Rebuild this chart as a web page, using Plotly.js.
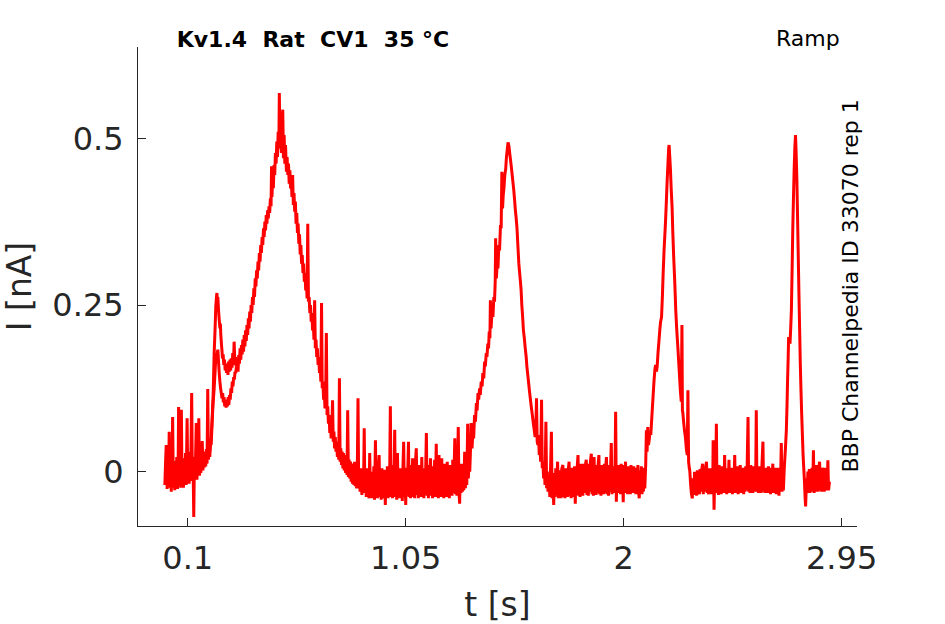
<!DOCTYPE html>
<html><head><meta charset="utf-8">
<script src="https://cdn.plot.ly/plotly-3.0.1.min.js"></script>
<style>html,body{margin:0;padding:0;background:#fff}#chart{width:945px;height:624px}</style>
</head><body><div id="chart"></div>
<script>
// Tick labels
const xTickVals = [0.1, 1.05, 2, 2.95];
const xTickText = ['0.1', '1.05', '2', '2.95'];
const yTickVals = [0, 0.25, 0.5];
const yTickText = ['0', '0.25', '0.5'];

const baseline0 = [[0.000,-0.020],[0.003,0.012],[0.006,0.040],[0.008,0.022],[0.010,-0.026],[0.013,0.010],[0.016,-0.022],[0.019,0.060],[0.022,-0.024],[0.025,0.018],[0.028,-0.030],[0.031,0.012],[0.034,0.082],[0.037,-0.024],[0.040,0.016],[0.043,-0.028],[0.046,0.014],[0.049,-0.012],[0.052,0.022],[0.055,-0.026],[0.058,0.010],[0.060,0.097],[0.063,-0.020],[0.066,0.018],[0.069,-0.024],[0.072,0.093],[0.075,-0.018],[0.078,0.020],[0.081,-0.024],[0.084,0.014],[0.087,-0.014],[0.090,0.028],[0.093,-0.020],[0.097,0.080],[0.100,-0.012],[0.103,0.024],[0.106,-0.018],[0.109,0.030],[0.112,-0.014],[0.117,0.118],[0.120,-0.012],[0.123,0.018],[0.126,-0.068],[0.129,0.022],[0.132,-0.010],[0.137,0.073],[0.140,-0.012],[0.143,0.028],[0.146,-0.006],[0.148,0.080],[0.151,-0.006],[0.154,0.028],[0.157,-0.002],[0.160,0.026],[0.163,0.046],[0.166,0.002],[0.169,0.028],[0.172,0.006],[0.175,0.030],[0.178,0.008],[0.181,0.034],[0.184,0.012],[0.187,0.124],[0.190,0.018],[0.193,0.038],[0.196,0.022],[0.199,0.050]];
const bump1 = [[0.202,0.040],[0.205,0.065],[0.208,0.095],[0.211,0.120],[0.213,0.150],[0.215,0.178],[0.218,0.205],[0.220,0.225],[0.222,0.247],[0.225,0.262],[0.227,0.268],[0.229,0.255],[0.231,0.262],[0.234,0.242],[0.237,0.228],[0.240,0.215],[0.242,0.222],[0.244,0.205],[0.247,0.190],[0.249,0.182],[0.251,0.170],[0.254,0.176],[0.257,0.160],[0.260,0.168],[0.263,0.152],[0.266,0.162],[0.269,0.148],[0.272,0.160],[0.275,0.145],[0.278,0.165],[0.281,0.150],[0.284,0.168],[0.287,0.152],[0.290,0.170],[0.293,0.156],[0.296,0.178],[0.299,0.160],[0.302,0.195],[0.305,0.165],[0.308,0.172],[0.311,0.158]];
const rise1 = [[0.316,0.165],[0.319,0.150],[0.322,0.175],[0.325,0.162],[0.328,0.185],[0.331,0.168],[0.334,0.190],[0.337,0.176],[0.340,0.198],[0.343,0.180],[0.346,0.205],[0.349,0.188],[0.352,0.212],[0.355,0.196],[0.358,0.220],[0.361,0.205],[0.364,0.230],[0.367,0.215],[0.370,0.240],[0.373,0.225],[0.376,0.250],[0.379,0.238],[0.382,0.262],[0.385,0.250],[0.388,0.275],[0.391,0.262],[0.394,0.290],[0.397,0.278],[0.400,0.302],[0.403,0.290],[0.406,0.315],[0.409,0.302],[0.412,0.328],[0.415,0.315],[0.418,0.340],[0.421,0.328],[0.424,0.352],[0.427,0.340],[0.430,0.365],[0.433,0.352],[0.436,0.375],[0.439,0.362],[0.442,0.385],[0.445,0.372],[0.448,0.392],[0.451,0.380],[0.454,0.398],[0.457,0.388],[0.460,0.410],[0.463,0.398],[0.465,0.458],[0.467,0.412],[0.470,0.440],[0.473,0.425],[0.476,0.460],[0.479,0.445],[0.482,0.478],[0.485,0.462],[0.488,0.495],[0.491,0.472],[0.494,0.510],[0.497,0.485],[0.499,0.568],[0.502,0.490],[0.505,0.515],[0.508,0.478],[0.511,0.520],[0.514,0.543],[0.517,0.470],[0.520,0.505],[0.523,0.462],[0.526,0.490]];
const decay1 = [[0.530,0.450],[0.533,0.472],[0.536,0.445],[0.539,0.462],[0.542,0.432],[0.545,0.452],[0.548,0.425],[0.551,0.440],[0.554,0.412],[0.557,0.445],[0.560,0.400],[0.563,0.418],[0.566,0.390],[0.569,0.405],[0.572,0.372],[0.575,0.388],[0.578,0.358],[0.581,0.372],[0.584,0.342],[0.587,0.356],[0.590,0.326],[0.593,0.340],[0.596,0.312],[0.599,0.325],[0.602,0.298],[0.605,0.312],[0.608,0.285],[0.611,0.298],[0.614,0.272],[0.617,0.285],[0.620,0.260],[0.623,0.372],[0.626,0.255],[0.629,0.262],[0.632,0.238],[0.635,0.250],[0.638,0.225],[0.641,0.238],[0.644,0.212],[0.647,0.225],[0.650,0.198],[0.653,0.257],[0.656,0.185],[0.659,0.198],[0.662,0.172],[0.665,0.185],[0.668,0.160],[0.671,0.172],[0.674,0.148],[0.677,0.160],[0.680,0.135],[0.683,0.253],[0.686,0.125],[0.689,0.135],[0.692,0.108],[0.695,0.122],[0.698,0.095],[0.701,0.110],[0.704,0.208],[0.707,0.085],[0.710,0.098],[0.713,0.072],[0.716,0.085],[0.719,0.058],[0.722,0.072],[0.725,0.050],[0.728,0.062],[0.731,0.107],[0.734,0.045],[0.737,0.060],[0.740,0.035],[0.743,0.052],[0.746,0.030],[0.749,0.045],[0.752,0.022],[0.755,0.040],[0.758,0.018],[0.761,0.140],[0.764,0.015],[0.767,0.035],[0.770,0.010],[0.773,0.030],[0.776,0.005],[0.779,0.028],[0.782,0.002],[0.785,0.025],[0.788,-0.002],[0.791,0.020],[0.794,-0.005],[0.797,0.092],[0.800,-0.008],[0.803,0.018],[0.806,-0.010],[0.809,0.015],[0.812,-0.015],[0.815,0.012],[0.818,-0.018],[0.821,0.010],[0.824,-0.020],[0.827,0.015],[0.830,-0.022],[0.833,0.008],[0.836,-0.025],[0.839,0.005],[0.842,0.110],[0.845,-0.025],[0.848,0.002],[0.851,-0.030],[0.854,0.005]];
const baseline1 = [[0.859,-0.035],[0.863,0.000],[0.866,-0.030],[0.869,0.065],[0.872,-0.032],[0.875,-0.005],[0.878,-0.038],[0.881,0.005],[0.884,-0.030],[0.887,-0.008],[0.890,-0.040],[0.893,0.028],[0.896,-0.035],[0.899,0.000],[0.902,-0.040],[0.905,-0.005],[0.908,-0.036],[0.911,0.008],[0.914,-0.042],[0.918,0.047],[0.921,-0.035],[0.924,-0.005],[0.927,-0.040],[0.930,0.002],[0.934,0.025],[0.937,-0.038],[0.940,-0.004],[0.943,-0.042],[0.946,0.005],[0.949,-0.035],[0.952,-0.008],[0.955,-0.040],[0.958,0.003],[0.961,-0.050],[0.964,-0.005],[0.967,-0.036],[0.970,0.008],[0.973,-0.040],[0.976,0.000],[0.979,-0.034],[0.983,0.098],[0.986,-0.038],[0.989,-0.002],[0.992,-0.040],[0.995,0.010],[0.998,-0.035],[1.002,0.063],[1.005,-0.038],[1.008,0.002],[1.011,-0.042],[1.014,0.028],[1.017,-0.036],[1.020,0.000],[1.023,-0.040],[1.026,0.005],[1.029,-0.035],[1.032,-0.004],[1.035,-0.044],[1.038,0.008],[1.041,0.045],[1.044,-0.038],[1.047,0.000],[1.050,-0.050],[1.053,0.006],[1.056,-0.036],[1.059,0.002],[1.062,0.045],[1.065,-0.038],[1.068,0.010],[1.071,-0.040],[1.074,0.003],[1.077,-0.034],[1.080,0.020],[1.083,-0.038],[1.086,0.000],[1.089,-0.040],[1.092,0.012],[1.096,0.035],[1.099,-0.035],[1.102,0.004],[1.105,-0.040],[1.108,0.010],[1.111,-0.034],[1.114,0.002],[1.117,-0.038],[1.120,0.022],[1.123,-0.036],[1.126,0.005],[1.129,-0.040],[1.132,0.000],[1.135,-0.034],[1.140,0.058],[1.143,-0.036],[1.146,0.004],[1.149,-0.040],[1.152,0.010],[1.155,-0.035],[1.158,0.020],[1.161,-0.036],[1.164,0.002],[1.167,-0.040],[1.170,0.008],[1.173,-0.034],[1.176,0.018],[1.179,-0.038],[1.183,0.042],[1.186,-0.035],[1.189,0.005],[1.192,-0.040],[1.195,0.025],[1.198,-0.036],[1.201,0.002],[1.204,-0.038],[1.207,0.020],[1.210,-0.034],[1.213,0.005],[1.216,-0.040],[1.219,0.012],[1.222,-0.036],[1.225,0.000],[1.228,-0.038],[1.231,0.015],[1.234,-0.034],[1.237,0.004],[1.240,-0.040],[1.243,0.010],[1.246,-0.035],[1.249,0.002],[1.252,-0.036],[1.255,0.018],[1.258,-0.032],[1.261,0.005],[1.264,0.050],[1.267,-0.034],[1.270,0.004],[1.273,-0.036],[1.276,0.010],[1.279,0.067],[1.282,-0.030],[1.285,-0.048],[1.288,0.008],[1.291,-0.032],[1.294,0.012],[1.297,-0.030],[1.300,0.008],[1.303,-0.028],[1.307,0.030],[1.310,-0.025],[1.313,0.010],[1.316,-0.020],[1.320,0.072],[1.323,-0.010],[1.326,0.020],[1.329,0.000],[1.332,0.030],[1.335,0.073]];
const peak2 = [[1.339,0.035],[1.343,0.062],[1.346,0.050],[1.350,0.085],[1.354,0.075],[1.358,0.103],[1.361,0.092],[1.365,0.118],[1.368,0.108],[1.372,0.125],[1.375,0.115],[1.379,0.135],[1.383,0.128],[1.386,0.148],[1.390,0.140],[1.394,0.165],[1.397,0.158],[1.401,0.178],[1.404,0.172],[1.408,0.192],[1.411,0.185],[1.414,0.210],[1.417,0.200],[1.419,0.257],[1.422,0.215],[1.426,0.240],[1.430,0.232],[1.434,0.262],[1.437,0.255],[1.440,0.285],[1.442,0.350],[1.445,0.290],[1.449,0.315],[1.452,0.305],[1.456,0.340],[1.459,0.332],[1.463,0.370],[1.466,0.365],[1.469,0.450],[1.472,0.395],[1.475,0.415],[1.478,0.425],[1.482,0.445],[1.486,0.455],[1.489,0.472],[1.493,0.485],[1.496,0.494],[1.500,0.488],[1.503,0.478],[1.507,0.467],[1.511,0.455],[1.514,0.445],[1.518,0.432],[1.521,0.422],[1.525,0.405],[1.528,0.392],[1.531,0.382],[1.535,0.365],[1.539,0.338],[1.543,0.312],[1.546,0.300],[1.550,0.285],[1.553,0.272],[1.556,0.250],[1.560,0.230],[1.563,0.212],[1.567,0.200],[1.571,0.185],[1.575,0.172],[1.578,0.158],[1.582,0.145],[1.586,0.132],[1.589,0.122],[1.593,0.110],[1.597,0.098],[1.600,0.090],[1.603,0.082],[1.607,0.070],[1.611,0.060],[1.614,0.052],[1.617,0.062],[1.620,0.110],[1.623,0.045],[1.626,0.040],[1.629,0.055],[1.632,0.025],[1.635,0.038],[1.638,0.015],[1.642,0.108],[1.645,0.005],[1.648,0.015],[1.651,-0.010],[1.654,0.010],[1.657,-0.020],[1.661,0.075],[1.664,-0.025],[1.667,0.000],[1.670,-0.030]];
const baseline2 = [[1.675,-0.005],[1.678,-0.038],[1.681,0.000],[1.685,0.060],[1.688,-0.040],[1.691,-0.008],[1.695,-0.050],[1.698,-0.002],[1.701,-0.038],[1.704,0.005],[1.707,-0.035],[1.710,-0.004],[1.712,0.015],[1.715,-0.040],[1.718,0.002],[1.721,-0.036],[1.724,-0.005],[1.727,-0.040],[1.730,0.004],[1.735,0.010],[1.738,-0.038],[1.741,-0.002],[1.744,-0.040],[1.747,0.005],[1.750,-0.035],[1.753,0.000],[1.756,-0.038],[1.759,0.004],[1.762,0.015],[1.765,-0.036],[1.768,0.000],[1.771,-0.040],[1.774,0.006],[1.777,-0.035],[1.780,0.002],[1.783,-0.038],[1.786,0.008],[1.789,-0.048],[1.792,0.004],[1.795,-0.035],[1.798,0.010],[1.801,0.025],[1.804,-0.036],[1.807,0.005],[1.810,-0.038],[1.813,0.012],[1.816,-0.034],[1.819,0.006],[1.822,-0.036],[1.826,0.012],[1.829,-0.032],[1.832,0.008],[1.837,0.018],[1.840,-0.035],[1.843,0.010],[1.846,-0.036],[1.849,0.012],[1.852,-0.030],[1.855,0.015],[1.859,0.027],[1.862,-0.034],[1.865,0.008],[1.868,-0.036],[1.871,0.022],[1.874,-0.032],[1.877,0.010],[1.880,-0.035],[1.883,0.006],[1.886,-0.032],[1.889,0.012],[1.892,0.025],[1.895,-0.034],[1.898,0.005],[1.901,-0.036],[1.904,0.010],[1.907,-0.030],[1.910,0.006],[1.913,-0.034],[1.916,0.012],[1.919,-0.032],[1.922,0.008],[1.925,0.022],[1.928,-0.034],[1.931,0.004],[1.934,-0.036],[1.937,0.010],[1.940,-0.030],[1.943,0.006],[1.946,0.043],[1.949,-0.034],[1.952,0.008],[1.955,-0.032],[1.958,0.005],[1.961,-0.030],[1.965,0.090],[1.968,-0.045],[1.971,0.004],[1.974,-0.032],[1.977,0.010],[1.980,-0.030],[1.983,0.006],[1.986,-0.034],[1.989,0.012],[1.992,-0.030],[1.995,0.004],[1.998,-0.046],[2.001,0.010],[2.004,-0.030],[2.008,0.015],[2.011,-0.032],[2.014,0.004],[2.017,-0.034],[2.020,0.008],[2.023,-0.030],[2.026,0.002],[2.029,-0.034],[2.032,0.010],[2.035,-0.030],[2.038,0.005],[2.041,-0.032],[2.044,0.008],[2.047,-0.030],[2.050,0.004],[2.053,-0.034],[2.056,0.006],[2.059,-0.030],[2.062,0.010],[2.065,-0.032],[2.068,-0.040],[2.071,0.002],[2.074,-0.030],[2.077,0.008],[2.080,-0.034],[2.083,0.004],[2.086,-0.030],[2.089,0.006],[2.092,-0.025]];
const peak3 = [[2.096,0.010],[2.099,0.062],[2.102,0.030],[2.105,0.067],[2.108,0.040],[2.111,0.047],[2.115,0.060],[2.118,0.055],[2.121,0.072],[2.125,0.095],[2.128,0.112],[2.132,0.135],[2.136,0.153],[2.139,0.160],[2.143,0.150],[2.146,0.158],[2.150,0.180],[2.154,0.197],[2.158,0.215],[2.161,0.225],[2.165,0.232],[2.169,0.265],[2.172,0.297],[2.176,0.332],[2.179,0.352],[2.182,0.372],[2.186,0.405],[2.189,0.432],[2.193,0.462],[2.196,0.485],[2.198,0.490],[2.201,0.472],[2.204,0.452],[2.207,0.425],[2.211,0.397],[2.214,0.360],[2.218,0.322],[2.222,0.290],[2.225,0.262],[2.227,0.242],[2.231,0.215],[2.234,0.198],[2.237,0.182],[2.241,0.158],[2.244,0.140],[2.247,0.122],[2.251,0.105],[2.254,0.220],[2.256,0.092],[2.258,0.088],[2.262,0.072],[2.265,0.062],[2.269,0.052],[2.273,0.035],[2.277,0.025],[2.280,0.122],[2.283,0.015],[2.286,0.005],[2.288,0.002],[2.292,-0.020],[2.295,-0.032],[2.299,-0.040]];
const baseline3 = [[2.303,-0.010],[2.306,-0.035],[2.309,0.000],[2.312,-0.032],[2.315,-0.005],[2.318,-0.036],[2.321,0.002],[2.324,-0.030],[2.327,-0.004],[2.330,-0.034],[2.333,0.004],[2.336,-0.030],[2.339,0.000],[2.344,0.012],[2.347,-0.034],[2.350,0.002],[2.353,-0.030],[2.356,0.004],[2.361,0.015],[2.364,-0.032],[2.367,0.000],[2.370,-0.034],[2.373,0.005],[2.376,-0.030],[2.379,0.002],[2.382,-0.034],[2.385,0.005],[2.388,-0.030],[2.390,0.047],[2.394,-0.057],[2.397,0.004],[2.400,-0.032],[2.404,0.072],[2.407,-0.030],[2.410,0.002],[2.413,-0.035],[2.416,0.010],[2.419,-0.030],[2.422,0.004],[2.425,-0.034],[2.428,0.008],[2.431,-0.030],[2.434,0.002],[2.437,-0.032],[2.440,0.025],[2.443,-0.030],[2.446,0.005],[2.449,-0.034],[2.452,0.004],[2.455,-0.030],[2.459,0.018],[2.462,-0.032],[2.465,0.002],[2.468,-0.030],[2.471,0.006],[2.474,-0.034],[2.477,0.004],[2.480,-0.030],[2.484,0.025],[2.487,-0.032],[2.490,0.004],[2.493,-0.030],[2.496,0.008],[2.499,-0.034],[2.502,0.004],[2.505,-0.030],[2.508,0.010],[2.511,-0.032],[2.514,0.002],[2.517,-0.030],[2.520,0.006],[2.523,-0.034],[2.526,0.004],[2.529,-0.030],[2.532,0.008],[2.535,-0.028],[2.538,0.004],[2.542,0.082],[2.545,-0.030],[2.548,0.006],[2.551,-0.032],[2.554,0.010],[2.557,-0.030],[2.560,0.004],[2.563,-0.032],[2.566,0.008],[2.569,-0.030],[2.572,0.004],[2.575,-0.028],[2.578,0.092],[2.581,-0.030],[2.584,0.004],[2.587,-0.032],[2.590,0.008],[2.593,-0.030],[2.596,0.005],[2.599,-0.032],[2.602,0.004],[2.607,0.045],[2.610,-0.030],[2.613,0.004],[2.616,-0.032],[2.619,0.006],[2.622,-0.030],[2.625,0.004],[2.628,-0.032],[2.631,0.008],[2.634,-0.030],[2.637,0.004],[2.640,-0.034],[2.643,0.006],[2.646,-0.030],[2.650,0.012],[2.653,-0.032],[2.656,0.004],[2.659,-0.030],[2.662,0.006],[2.665,-0.034],[2.668,0.004],[2.671,-0.030],[2.674,0.006],[2.677,-0.036],[2.680,0.004],[2.683,-0.030],[2.687,0.043],[2.690,-0.030],[2.693,0.000],[2.696,-0.028]];
const peak4 = [[2.700,0.005],[2.702,0.017],[2.705,0.035],[2.709,0.062],[2.712,0.100],[2.714,0.132],[2.717,0.170],[2.719,0.202],[2.722,0.196],[2.725,0.192],[2.728,0.215],[2.731,0.242],[2.734,0.300],[2.737,0.362],[2.740,0.410],[2.743,0.452],[2.746,0.485],[2.749,0.505],[2.752,0.475],[2.755,0.437],[2.758,0.380],[2.761,0.322],[2.764,0.265],[2.767,0.212],[2.770,0.160],[2.773,0.120],[2.776,0.085],[2.779,0.055],[2.782,0.025],[2.785,0.005],[2.788,-0.015],[2.791,-0.040],[2.793,-0.052]];
const baseline4 = [[2.797,-0.010],[2.800,-0.032],[2.803,0.000],[2.806,-0.030],[2.809,0.004],[2.812,-0.032],[2.815,0.002],[2.818,-0.028],[2.821,0.006],[2.824,-0.030],[2.827,0.032],[2.830,-0.032],[2.833,0.006],[2.836,-0.030],[2.839,0.010],[2.842,-0.028],[2.845,0.004],[2.848,-0.030],[2.851,0.006],[2.854,0.015],[2.857,-0.028],[2.860,0.002],[2.863,-0.030],[2.866,0.006],[2.869,-0.028],[2.872,0.004],[2.875,-0.030],[2.878,0.006],[2.881,-0.026],[2.884,0.004],[2.887,-0.028],[2.890,0.017],[2.893,-0.028],[2.897,-0.015]];
// second sweep, visible where it separates from the first (early bump)
const sweep2Bump = [[0.196,0.030],[0.200,0.045],[0.205,0.070],[0.210,0.100],[0.215,0.125],[0.219,0.150],[0.222,0.170],[0.225,0.178],[0.228,0.176],[0.231,0.183],[0.234,0.165],[0.237,0.148],[0.240,0.135],[0.243,0.125],[0.246,0.118],[0.249,0.110],[0.252,0.118],[0.255,0.104],[0.258,0.112],[0.261,0.098],[0.264,0.108],[0.267,0.096],[0.270,0.106],[0.273,0.098],[0.276,0.112],[0.279,0.100],[0.282,0.115],[0.285,0.108],[0.288,0.125],[0.291,0.118],[0.294,0.135],[0.297,0.128],[0.300,0.142],[0.303,0.138],[0.306,0.150],[0.309,0.148],[0.312,0.158]];

const sweep1 = [].concat(baseline0, bump1, rise1, decay1, baseline1, peak2, baseline2, peak3, baseline3, peak4, baseline4);

const red = '#ff0000';
const traces = [
  {x: sweep1.map(p => p[0]), y: sweep1.map(p => p[1]), type: 'scatter', mode: 'lines',
   line: {color: red, width: 3, simplify: false}, hoverinfo: 'skip'},
  {x: sweep2Bump.map(p => p[0]), y: sweep2Bump.map(p => p[1]), type: 'scatter', mode: 'lines',
   line: {color: red, width: 3, simplify: false}, hoverinfo: 'skip'}
];

const axisCol = '#262626';
const layout = {
  width: 945, height: 624,
  margin: {l: 138, r: 88, t: 47, b: 98, pad: 0},
  paper_bgcolor: '#ffffff', plot_bgcolor: '#ffffff',
  showlegend: false,
  font: {family: 'DejaVu Sans, sans-serif', color: axisCol},
  title: {
    text: '<b>Kv1.4\u00a0\u00a0Rat\u00a0\u00a0CV1\u00a0\u00a035 °C</b>',
    font: {family: 'DejaVu Sans, sans-serif', size: 22, color: '#000000'},
    xref: 'container', x: 313 / 945, xanchor: 'center',
    yref: 'container', y: 1 - 39 / 624, yanchor: 'middle'
  },
  xaxis: {
    range: [-0.117, 3.017], autorange: false,
    tickmode: 'array', tickvals: xTickVals, ticktext: xTickText,
    ticks: 'inside', ticklen: 8, tickwidth: 1, tickcolor: axisCol,
    showline: true, linecolor: axisCol, linewidth: 1,
    showgrid: false, zeroline: false, automargin: false,
    tickfont: {size: 32, color: axisCol},
    ticklabelstandoff: 4,
    title: {text: 't [s]', font: {size: 33, color: axisCol}, standoff: 18}
  },
  yaxis: {
    range: [-0.0815, 0.637], autorange: false,
    tickmode: 'array', tickvals: yTickVals, ticktext: yTickText,
    ticks: 'inside', ticklen: 8, tickwidth: 1, tickcolor: axisCol,
    showline: true, linecolor: axisCol, linewidth: 1,
    showgrid: false, zeroline: false, automargin: false,
    tickfont: {size: 32, color: axisCol},
    ticklabelstandoff: 7,
    title: {text: 'I [nA]', font: {size: 33, color: axisCol}, standoff: 15}
  },
  annotations: [
    {text: 'Ramp', xref: 'paper', yref: 'paper', x: (807.5 - 138) / 719, y: (526 - 39) / 479,
     xanchor: 'center', yanchor: 'middle', showarrow: false,
     font: {family: 'DejaVu Sans, sans-serif', size: 22, color: '#000000'}},
    {text: 'BBP Channelpedia ID 33070 rep 1', xref: 'paper', yref: 'paper',
     x: (850 - 138) / 719, y: (526 - 286.5) / 479, textangle: -90,
     xanchor: 'center', yanchor: 'middle', showarrow: false,
     font: {family: 'DejaVu Sans, sans-serif', size: 22, color: '#000000'}}
  ]
};

Plotly.newPlot('chart', traces, layout, {staticPlot: true, displayModeBar: false});
</script>
</body></html>
